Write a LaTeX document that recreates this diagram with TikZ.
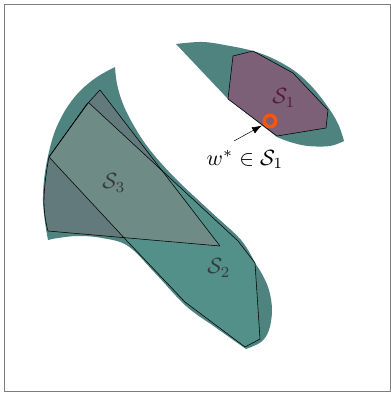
\documentclass[tikz,border=0pt]{standalone}
\usetikzlibrary{arrows.meta}
\definecolor{outerteal}{RGB}{78,131,128}
\definecolor{stwo}{RGB}{82,144,137}
\definecolor{sthreeA}{RGB}{98,122,124}
\definecolor{sthreeB}{RGB}{111,139,133}
\definecolor{sone}{RGB}{123,96,120}
\definecolor{ringc}{RGB}{250,85,10}
\definecolor{framec}{RGB}{125,125,125}
\definecolor{sonetxt}{RGB}{85,25,55}
\definecolor{stxt}{RGB}{50,58,58}
\tikzset{
  outline/.style={draw=black, line width=0.55pt, line join=round},
  lbl/.style={inner sep=0pt, scale=2.2},
}
\begin{document}
\begin{tikzpicture}[x=1pt,y=-1pt]
\useasboundingbox (0,0) rectangle (391,394);
\draw[framec, line width=0.9pt] (4.5,4.5) rectangle (390,391.5);

% ---- left outer teal region
\fill[outerteal] plot[smooth, tension=0.55] coordinates {(115,67) (97,77) (80,91) (66,109) (55,131) (48,156) (44,180) (43,202) (45,222) (48,240)}
  -- plot[smooth, tension=0.6] coordinates {(48,240) (58,238) (78,236) (102,238) (128,246) (155,273) (186,306) (215,327) (246,349)}
  -- plot[smooth, tension=0.6] coordinates {(246,349) (261,342) (269,330) (272,310) (269,290) (262,274) (255,263)}
  -- plot[smooth, tension=0.6] coordinates {(255,263) (241,240) (210,211) (175,178) (150,150) (134,126) (123,104) (117,84) (115,67)}
  -- cycle;

% ---- S2 polygon
\def\stwopath{(86.5,104.5) -- (88.5,102.5) -- (238,241) -- (255,263) -- (260,339) -- (245,347) -- (185,302) -- (128,242) -- (49,157) -- cycle}
\def\sthreepath{(100,90) -- (88.5,102.5) -- (49,157) .. controls (45.5,175) and (43.5,195) .. (44,205) .. controls (44.5,215) and (46,224) .. (48,231) -- (220,246) -- cycle}
\fill[stwo] \stwopath;
% ---- S3 polygon
\fill[sthreeA] \sthreepath;
\begin{scope}
  \clip \stwopath;
  \fill[sthreeB] \sthreepath;
\end{scope}
\draw[outline] \stwopath;
\draw[outline] \sthreepath;

% ---- upper right outer teal region
\fill[outerteal] plot[smooth, tension=0.6] coordinates {(176,44) (203,42) (230,46) (253,51) (274,59) (296,72) (314,89) (330,110) (339,126) (344,141)}
  -- plot[smooth, tension=0.6] coordinates {(344,141) (330,146) (308,146) (290,142) (277,137)}
  -- (228,99) -- cycle;
% ---- S1 polygon
\draw[outline, fill=sone] (233,56) -- (253,51) -- (293,73) -- (328,110) -- (326,128) -- (277,136) -- (228,99) -- cycle;

% ---- labels
\node[lbl, text=sonetxt] (s1) at (284,98) {$\mathcal{S}_1$};
\node[lbl, text=stxt] (s3) at (114,183) {$\mathcal{S}_3$};
\node[lbl, text=stxt] (s2) at (219,268) {$\mathcal{S}_2$};

% ---- optimum point and arrow
\node[draw=ringc, line width=3.3pt, circle, minimum size=11.5pt, inner sep=0pt] (wstar) at (270,121) {};
\node[lbl, anchor=base] (wlabel) at (245,165) {$w^*\in\mathcal{S}_1$};
\coordinate (arrstart) at (234,141);
\coordinate (arrtip) at (262,125.5);
\draw[line width=0.5pt, -{Latex[length=10pt,width=7pt]}] (arrstart) -- (arrtip);
\end{tikzpicture}
\end{document}
